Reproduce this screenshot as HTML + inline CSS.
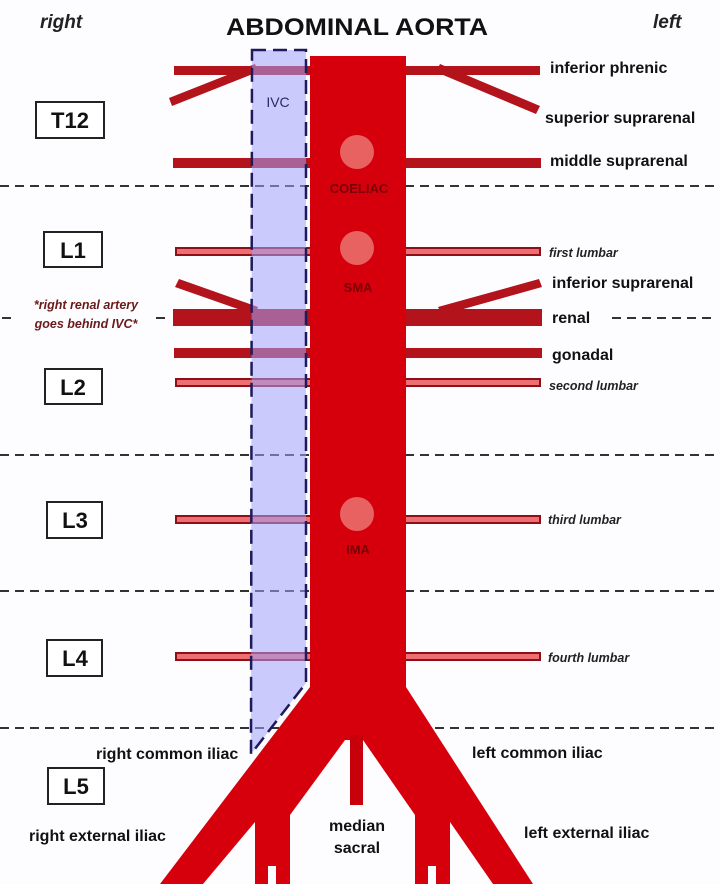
<!DOCTYPE html>
<html><head><meta charset="utf-8"><style>
html,body{margin:0;padding:0;background:#fdfcfe;}
svg{display:block;font-family:"Liberation Sans",Arial,sans-serif;}
</style></head><body>
<svg width="720" height="884" viewBox="0 0 720 884" xmlns="http://www.w3.org/2000/svg">
<rect width="720" height="884" fill="#fdfcfe"/>
<g stroke="#333" stroke-width="2" stroke-dasharray="9,6">
<line x1="0" y1="186" x2="720" y2="186"/>
<line x1="0" y1="455" x2="720" y2="455"/>
<line x1="0" y1="591" x2="720" y2="591"/>
<line x1="0" y1="728" x2="720" y2="728"/>
<line x1="2" y1="318" x2="12" y2="318"/>
<line x1="156" y1="318" x2="170" y2="318"/>
<line x1="612" y1="318" x2="712" y2="318"/>
</g>
<g fill="#b3131b">
<rect x="174" y="66" width="140" height="9"/>
<rect x="402" y="66" width="138" height="9"/>
<polygon points="255,64 258,72 172,106 169,98"/>
<polygon points="440,64 540,106 536,114 436,72"/>
<rect x="173" y="158" width="140" height="10"/>
<rect x="402" y="158" width="139" height="10"/>
<polygon points="179,279 258,307 255,315 175,287"/>
<polygon points="438,307 539,279 542,287 442,315"/>
<rect x="173" y="309" width="140" height="17"/>
<rect x="402" y="309" width="140" height="17"/>
<rect x="174" y="348" width="139" height="10"/>
<rect x="402" y="348" width="140" height="10"/>
</g>
<g fill="#ee6f73" stroke="#8e1016" stroke-width="2">
<rect x="176" y="248" width="136" height="7"/>
<rect x="404" y="248" width="136" height="7"/>
<rect x="176" y="379" width="136" height="7"/>
<rect x="404" y="379" width="136" height="7"/>
<rect x="176" y="516" width="136" height="7"/>
<rect x="404" y="516" width="136" height="7"/>
<rect x="176" y="653" width="136" height="7"/>
<rect x="404" y="653" width="136" height="7"/>
</g>
<polygon points="252,50 306,50 306,683 251,754" fill="rgba(160,160,250,0.55)" stroke="#1e1a5c" stroke-width="2.5" stroke-dasharray="14,7"/>
<text x="278" y="107" font-size="14" fill="#2a2a66" text-anchor="middle">IVC</text>
<polygon points="310,56 406,56 406,687 533,884 493,884 450,822 450,884 415,884 415,815 363,740 345,740 290,815 290,884 255,884 255,822 203,884 160,884 310,687" fill="#d6000c"/>
<rect x="350" y="735" width="13" height="70" fill="#c8000c"/>
<rect x="268" y="866" width="8" height="18" fill="#fdfcfe"/>
<rect x="428" y="866" width="8" height="18" fill="#fdfcfe"/>
<g fill="#e86262">
<circle cx="357" cy="152" r="17"/>
<circle cx="357" cy="248" r="17"/>
<circle cx="357" cy="514" r="17"/>
</g>
<g font-size="13" font-weight="bold" fill="#7a0006" text-anchor="middle">
<text x="359" y="193">COELIAC</text>
<text x="358" y="292">SMA</text>
<text x="358" y="554">IMA</text>
</g>
<text x="226" y="35" font-size="24" font-weight="bold" fill="#111" textLength="262" lengthAdjust="spacingAndGlyphs">ABDOMINAL AORTA</text>
<text x="40" y="28" font-size="19" font-weight="bold" font-style="italic" fill="#222">right</text>
<text x="653" y="28" font-size="19" font-weight="bold" font-style="italic" fill="#222">left</text>
<g fill="#fff" stroke="#222" stroke-width="2">
<rect x="36" y="102" width="68" height="36"/>
<rect x="44" y="232" width="58" height="35"/>
<rect x="45" y="369" width="57" height="35"/>
<rect x="47" y="502" width="55" height="36"/>
<rect x="47" y="640" width="55" height="36"/>
<rect x="48" y="768" width="56" height="36"/>
</g>
<g font-size="22" font-weight="bold" fill="#111" text-anchor="middle">
<text x="70" y="128">T12</text>
<text x="73" y="258">L1</text>
<text x="73" y="395">L2</text>
<text x="75" y="528">L3</text>
<text x="75" y="666">L4</text>
<text x="76" y="794">L5</text>
</g>
<g font-size="12.5" font-weight="bold" font-style="italic" fill="#6b1a1a" text-anchor="middle">
<text x="86" y="309">*right renal artery</text>
<text x="86" y="328">goes behind IVC*</text>
</g>
<g font-size="16" font-weight="bold" fill="#111">
<text x="550" y="73">inferior phrenic</text>
<text x="545" y="123">superior suprarenal</text>
<text x="550" y="166">middle suprarenal</text>
<text x="552" y="288">inferior suprarenal</text>
<text x="552" y="323">renal</text>
<text x="552" y="360">gonadal</text>
<text x="96" y="759">right common iliac</text>
<text x="472" y="758">left common iliac</text>
<text x="29" y="841">right external iliac</text>
<text x="524" y="838">left external iliac</text>
<text x="357" y="831" text-anchor="middle">median</text>
<text x="357" y="853" text-anchor="middle">sacral</text>
</g>
<g font-size="12.5" font-weight="bold" font-style="italic" fill="#222">
<text x="549" y="257">first lumbar</text>
<text x="549" y="390">second lumbar</text>
<text x="548" y="524">third lumbar</text>
<text x="548" y="662">fourth lumbar</text>
</g>
</svg>
</body></html>
